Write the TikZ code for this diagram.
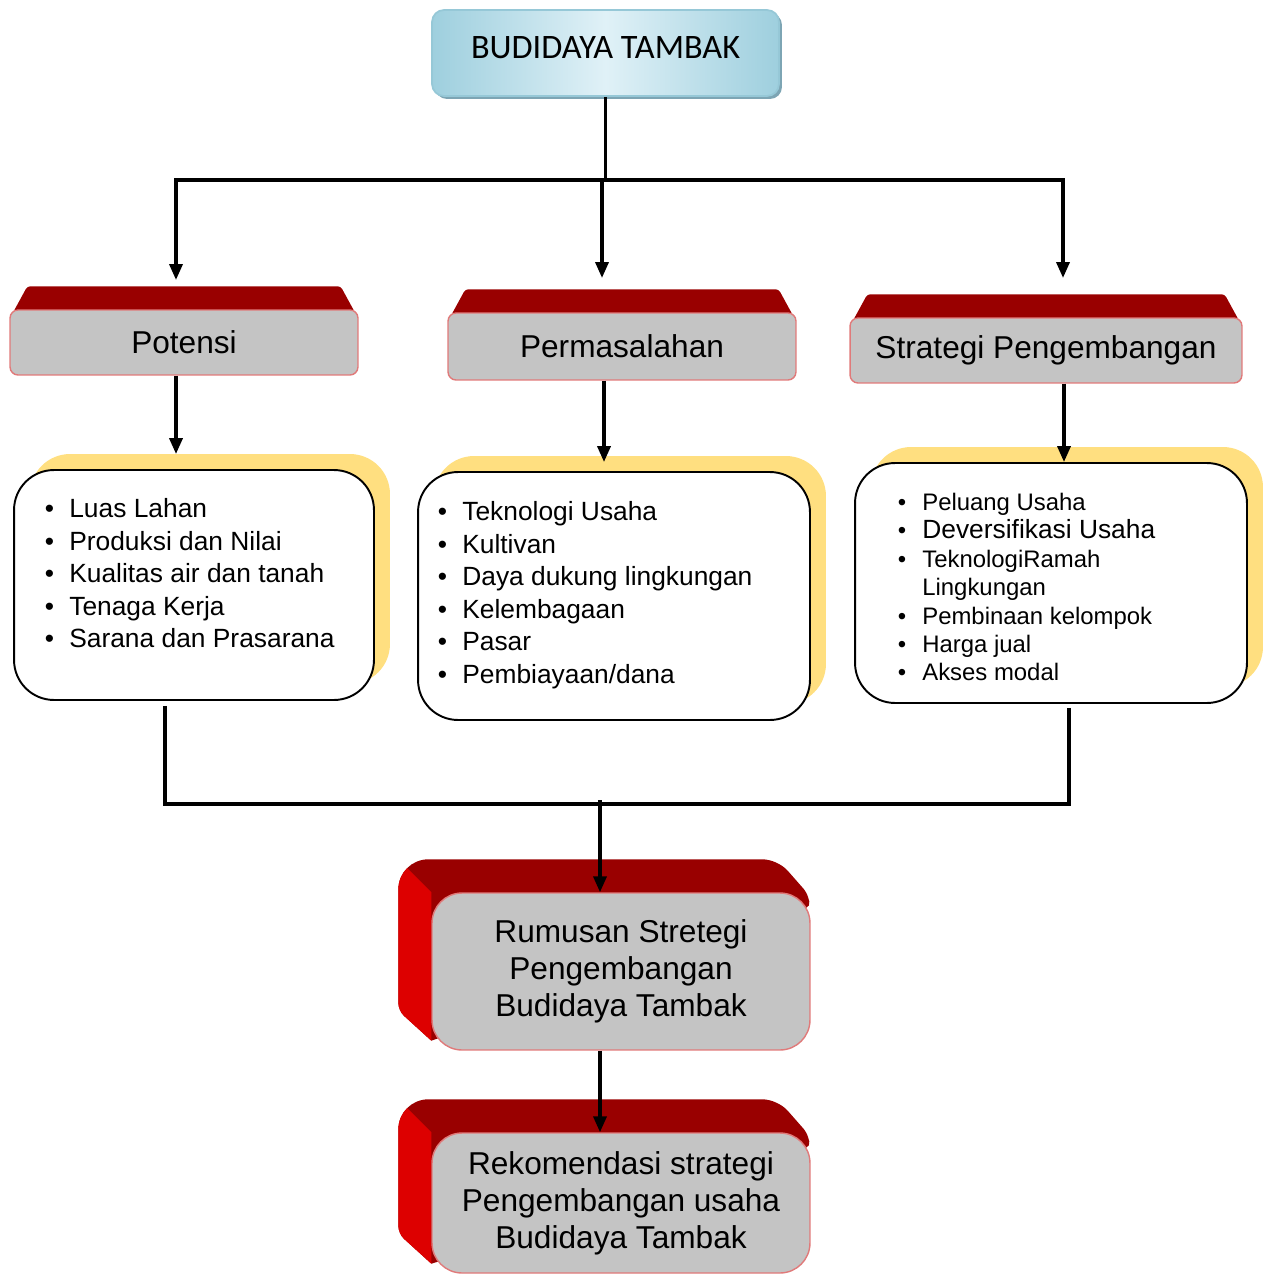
\documentclass[tikz,border=0pt]{standalone}
\usepackage{fontspec}
\setmainfont{Liberation Sans}
\newfontfamily\titlefont{Carlito}
\usetikzlibrary{arrows.meta,shadows,backgrounds}

\definecolor{topred}{RGB}{153,0,0}
\definecolor{sidered}{RGB}{221,0,0}
\definecolor{boxgray}{RGB}{196,196,196}
\definecolor{edgered}{RGB}{224,122,122}
\definecolor{skyedge}{RGB}{150,200,215}
\definecolor{skydark}{RGB}{158,207,222}
\definecolor{skylight}{RGB}{224,241,247}
\definecolor{skyshadow}{RGB}{125,165,180}
\definecolor{notegold}{RGB}{255,223,128}

\newcommand{\itembul}{\makebox[0.49cm][l]{\textbullet}}

\tikzset{
  link/.style={line width=2pt},
  arr/.style={link, -{Triangle[length=0.32cm,width=0.26cm]}},
  titlebox/.style={draw=skyedge, line width=1pt, rounded corners=0.24cm,
    left color=skydark, right color=skydark, middle color=skylight,
    drop shadow={shadow xshift=0.06cm, shadow yshift=-0.06cm, fill=skyshadow, opacity=1},
    minimum width=6.94cm, minimum height=1.72cm, text depth=0.2cm},
  headbox/.style={draw=edgered, line width=0.8pt, fill=boxgray, rounded corners=0.16cm,
    minimum height=1.3cm, font=\fontsize{18}{21}\selectfont},
  listbox/.style={draw, line width=1.1pt, fill=white, rounded corners=0.8cm,
    drop shadow={shadow xshift=0.32cm, shadow yshift=0.32cm, fill=notegold, opacity=1}},
  items/.style={anchor=north west, inner sep=0pt, align=left, font=\fontsize{15}{18.5}\selectfont},
  resultbox/.style={draw=edgered, line width=0.8pt, fill=boxgray, rounded corners=0.6cm,
    minimum width=7.56cm, align=center, font=\fontsize{18}{21}\selectfont},
  % outline of a 3d block behind a result box
  blockpath/.style={insert path={([shift={(-33,0)}]#1.north west) [rounded corners=0.6cm] -- ([shift={(-33,-33)}]#1.north west) [rounded corners=0.3cm] -- ([shift={(-33,-33)}]#1.north east) [rounded corners=0.1cm] -- ([shift={(-4,0)}]#1.north east) -- ([shift={(0,14)}]#1.north east) [sharp corners] -- ([shift={(0,-10)}]#1.south west) [rounded corners=0.15cm] -- ([shift={(-33,-40)}]#1.south west) [sharp corners] -- cycle}},
}

\begin{document}
\begin{tikzpicture}[x=0.02cm, y=-0.02cm]
	\useasboundingbox (0,0) rectangle (1270,1274);
	
	% title
	\node[titlebox, font=\titlefont\fontsize{19.5}{23}\selectfont] (title) at (605.5,53) {BUDIDAYA TAMBAK};
	
	% three heads
	\node[headbox, minimum width=6.96cm] (potensi) at (184,342.5) {Potensi};
	\node[headbox, minimum width=6.96cm, minimum height=1.34cm] (masalah) at (622,346.5) {Permasalahan};
	\node[headbox, minimum width=7.84cm] (strategi) at (1046,350.5) {Strategi Pengembangan};
	
	% lists
	\node[listbox, minimum width=7.2cm, minimum height=4.6cm] (potlist) at (194,585) {};
	\node[listbox, minimum width=7.84cm, minimum height=4.96cm] (maslist) at (614,596) {};
	\node[listbox, minimum width=7.84cm, minimum height=4.8cm] (strlist) at (1051,583) {};
	
	\node[items] (potitems) at (44.5,498.5) {\itembul Luas Lahan\\ \itembul Produksi dan Nilai\\ \itembul Kualitas air dan tanah\\ \itembul Tenaga Kerja\\ \itembul Sarana dan Prasarana};
	\node[items] (masitems) at (437.5,501.5) {\itembul Teknologi Usaha\\ \itembul Kultivan\\ \itembul Daya dukung lingkungan\\ \itembul Kelembagaan\\ \itembul Pasar\\ \itembul Pembiayaan/dana};
	\node[items, font=\fontsize{13.6}{16.2}\selectfont] (stritems) at (897.5,492.5) {\itembul Peluang Usaha\\ \itembul{\fontsize{15}{16.2}\selectfont Deversifikasi Usaha}\\ \itembul TeknologiRamah\\ \hspace*{0.49cm}Lingkungan\\ \itembul Pembinaan kelompok\\ \itembul Harga jual\\ \itembul Akses modal};
	
	% results
	\node[resultbox, minimum height=3.14cm] (rumusan) at (621,971.5) {Rumusan Stretegi\\Pengembangan\\Budidaya Tambak};
	\node[resultbox, minimum height=2.8cm] (rekom) at (621,1203) {Rekomendasi strategi\\Pengembangan usaha\\Budidaya Tambak};
	
	% red faces behind
	\begin{scope}[on background layer]
		\foreach \n in {potensi,masalah,strategi}
		{
			\fill[topred, rounded corners=0.06cm] ([yshift=-0.2cm]\n.north west) -- ([xshift=0.36cm, yshift=0.46cm]\n.north west) -- ([xshift=-0.36cm, yshift=0.46cm]\n.north east) -- ([yshift=-0.2cm]\n.north east) -- cycle;
		}
		\foreach \n in {rumusan,rekom}
		{
			\fill[topred, blockpath=\n];
			\begin{scope}
				\clip[blockpath=\n];
				\fill[sidered] ([shift={(-43,-43)}]\n.north west) -- (\n.north west) -- (\n.south west) -- ([shift={(-43,0)}]\n.south west) -- cycle;
			\end{scope}
		}
	\end{scope}
	
	% connectors
	\coordinate (split) at (605.5,180);
	\coordinate (inPot) at (176,280);
	\coordinate (inMas) at (602,278);
	\coordinate (inStr) at (1063,278);
	\coordinate (join) at (600,804);
	
	\draw[link] (title.south) -- (split);
	\draw[arr] (split) -| (inPot);
	\draw[arr] (split) -| (inStr);
	\draw[arr] (split -| inMas) -- (inMas);
	
	\draw[arr, shorten >=0.3cm] (potensi.south -| inPot) -- (inPot |- potlist.north);
	\draw[arr, shorten >=0.18cm] ([xshift=0.04cm]masalah.south -| inMas) -- ([xshift=0.04cm]inMas |- maslist.north);
	\draw[arr] ([xshift=0.02cm]strategi.south -| inStr) -- ([xshift=0.02cm]inStr |- strlist.north);
	
	\draw[link] ([xshift=-0.58cm, yshift=-0.1cm]potlist.south) |- (join);
	\draw[link] ([xshift=0.36cm, yshift=-0.08cm]strlist.south) |- (join);
	\draw[arr] ([yshift=0.08cm]join) -- (join |- rumusan.north);
	\draw[arr] (rumusan.south -| join) -- (join |- rekom.north);
\end{tikzpicture}
\end{document}
